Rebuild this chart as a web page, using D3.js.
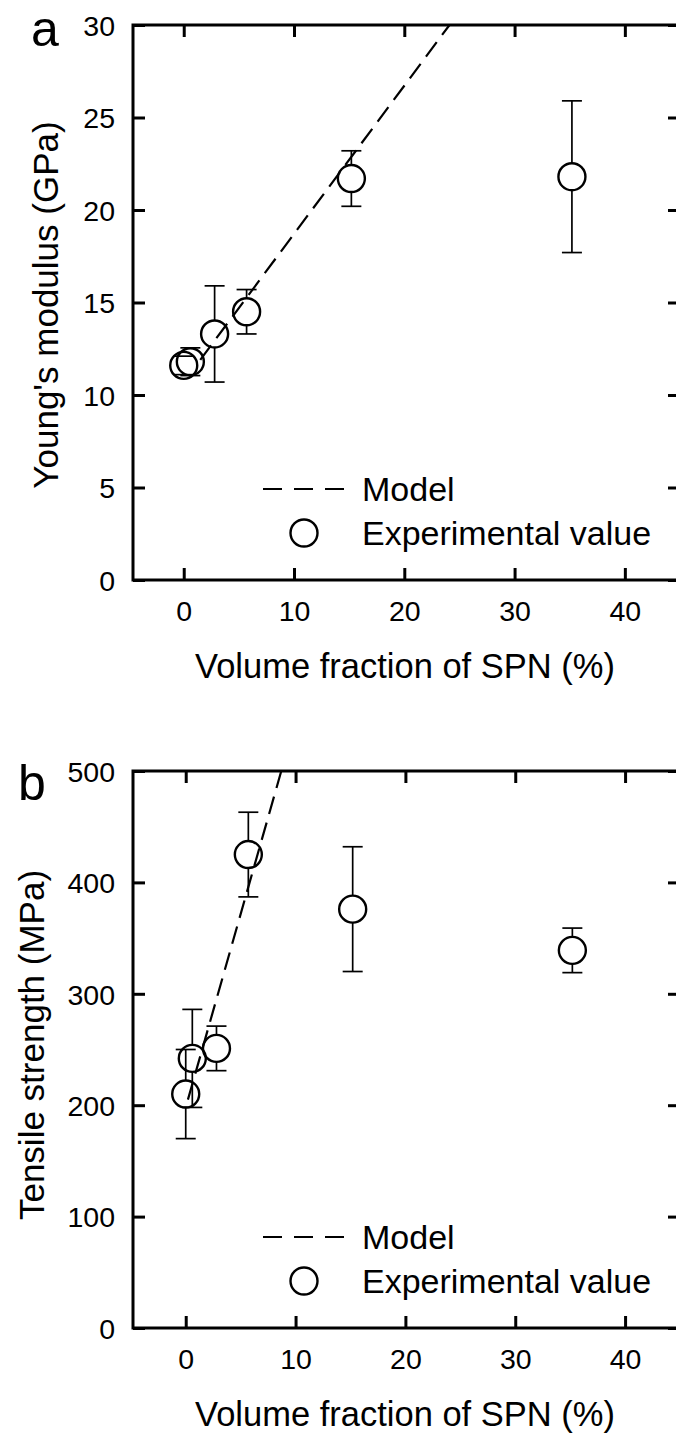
<!DOCTYPE html>
<html>
<head>
<meta charset="utf-8">
<script src="https://cdn.jsdelivr.net/npm/d3@7"></script>
<style>
  body { margin: 0; background: #fff; }
  text { font-family: "Liberation Sans", Arial, sans-serif; fill: #000; }
</style>
</head>
<body>
<div id="chart"></div>
<script>
// volume fraction of SPN (%) for each sample
const fraction = [0, 0.6, 2.8, 5.7, 15.2, 35.2];

// panel a: Young's modulus (GPa)
const modulus = [11.6, 11.8, 13.3, 14.5, 21.7, 21.8];
const modulusErr = [0.5, 0.75, 2.6, 1.2, 1.5, 4.1];
const modelFracA = [1.5, 24.1];
const modelA = [11.9, 30];

// panel b: tensile strength (MPa)
const strength = [210, 242, 251, 425, 376, 339];
const strengthErr = [40, 44, 20, 38, 56, 20];
const modelFracB = [0.2, 8.7];
const modelB = [205, 500];

const xTicks = [0, 10, 20, 30, 40];
const yTicksA = [0, 5, 10, 15, 20, 25, 30];
const yTicksB = [0, 100, 200, 300, 400, 500];

let W = 676, H = 1434;
let r = 13.5;

let svg = d3.select("#chart")
  .append("svg")
  .attr("width", W)
  .attr("height", H);

svg.append("rect").attr("width", W).attr("height", H).attr("fill", "#fff");

function drawPanel(opt) {
  let x = d3.scaleLinear().domain(opt.xDomain).range([133, 680]);
  let y = d3.scaleLinear().domain(opt.yDomain).range([opt.bottom, opt.top]);

  let g = svg.append("g");

  // axes, all ticks point inward
  g.append("g")
    .attr("transform", translate(0, opt.bottom))
    .call(d3.axisBottom(x).tickValues(xTicks).tickSize(-12).tickSizeOuter(0).tickPadding(21));
  g.append("g")
    .attr("transform", translate(0, opt.top))
    .call(d3.axisTop(x).tickValues(xTicks).tickSize(-12).tickSizeOuter(0).tickFormat(""));
  let ay = g.append("g")
    .attr("transform", translate(133, 0))
    .call(d3.axisLeft(y).tickValues(opt.yTicks).tickSize(-12).tickSizeOuter(0).tickPadding(18));
  g.append("g")
    .attr("transform", translate(680, 0))
    .call(d3.axisRight(y).tickValues(opt.yTicks).tickSize(-12).tickSizeOuter(0).tickFormat(""));

  g.selectAll(".domain").remove();
  g.selectAll(".tick line").attr("stroke", "#000").attr("stroke-width", 3);
  g.selectAll(".tick text")
    .attr("font-family", "Liberation Sans, Arial, sans-serif")
    .attr("font-size", 28.5)
    .attr("fill", "#000");
  ay.selectAll(".tick text").attr("dy", "0.36em");

  // frame
  g.append("rect")
    .attr("x", 133)
    .attr("y", opt.top)
    .attr("width", 680 - 133)
    .attr("height", opt.bottom - opt.top)
    .attr("fill", "none")
    .attr("stroke", "#000")
    .attr("stroke-width", 3);

  // model line
  let clip = "clip-" + opt.id;
  g.append("clipPath").attr("id", clip)
    .append("rect")
    .attr("x", 133).attr("y", opt.top)
    .attr("width", 680 - 133).attr("height", opt.bottom - opt.top);

  let line = d3.line()
    .x((d, i) => x(opt.modelX[i]))
    .y(d => y(d));
  g.append("path")
    .datum(opt.modelY)
    .attr("clip-path", "url(#" + clip + ")")
    .attr("d", line)
    .attr("fill", "none")
    .attr("stroke", "#000")
    .attr("stroke-width", 2.2)
    .attr("stroke-dasharray", "18,9");

  // error bars, trimmed at circle edge
  let pts = opt.values.map((v, i) => ({ f: fraction[i], v: v, e: opt.errs[i] }));
  let bars = g.selectAll(".err").data(pts).enter().append("g");
  bars.append("line")
    .attr("x1", d => x(d.f)).attr("x2", d => x(d.f))
    .attr("y1", d => y(d.v + d.e)).attr("y2", d => Math.max(y(d.v) - r, y(d.v + d.e)));
  bars.append("line")
    .attr("x1", d => x(d.f)).attr("x2", d => x(d.f))
    .attr("y1", d => y(d.v - d.e)).attr("y2", d => Math.min(y(d.v) + r, y(d.v - d.e)));
  bars.append("line")
    .attr("x1", d => x(d.f) - 10).attr("x2", d => x(d.f) + 10)
    .attr("y1", d => y(d.v + d.e)).attr("y2", d => y(d.v + d.e));
  bars.append("line")
    .attr("x1", d => x(d.f) - 10).attr("x2", d => x(d.f) + 10)
    .attr("y1", d => y(d.v - d.e)).attr("y2", d => y(d.v - d.e));
  bars.selectAll("line").attr("stroke", "#000").attr("stroke-width", 1.7);

  g.selectAll(".pt").data(pts).enter().append("circle")
    .attr("cx", d => x(d.f))
    .attr("cy", d => y(d.v))
    .attr("r", r)
    .attr("fill", "none")
    .attr("stroke", "#000")
    .attr("stroke-width", 2.4);

  // legend
  g.append("line")
    .attr("x1", 263).attr("x2", 345)
    .attr("y1", opt.legendY).attr("y2", opt.legendY)
    .attr("stroke", "#000").attr("stroke-width", 2.2)
    .attr("stroke-dasharray", "19,12");
  g.append("text")
    .attr("x", 362).attr("y", opt.legendY + 12)
    .style("font-size", "34px")
    .text("Model");
  g.append("circle")
    .attr("cx", 304).attr("cy", opt.legendY + 44)
    .attr("r", r)
    .attr("fill", "none").attr("stroke", "#000").attr("stroke-width", 2.4);
  g.append("text")
    .attr("x", 362).attr("y", opt.legendY + 56)
    .style("font-size", "34px")
    .text("Experimental value");

  // axis titles
  g.append("text")
    .attr("x", 405).attr("y", opt.bottom + 98)
    .attr("text-anchor", "middle")
    .style("font-size", "34.5px")
    .text("Volume fraction of SPN (%)");
  g.append("text")
    .attr("transform", translate(opt.titleX, opt.titleY) + " rotate(-90)")
    .attr("text-anchor", "middle")
    .style("font-size", "35px")
    .text(opt.yTitle);

  // panel letter
  g.append("text")
    .attr("x", opt.letterX).attr("y", opt.top + opt.letterDy)
    .style("font-size", "50px")
    .text(opt.letter);
}

drawPanel({
  id: "a", letter: "a", letterX: 31, letterDy: 21,
  top: 25, bottom: 580,
  xDomain: [-4.6, 45], yDomain: [0, 30], yTicks: yTicksA,
  values: modulus, errs: modulusErr,
  modelX: modelFracA, modelY: modelA,
  legendY: 489, titleX: 58, titleY: 305,
  yTitle: "Young's modulus (GPa)"
});

drawPanel({
  id: "b", letter: "b", letterX: 18, letterDy: 29,
  top: 771, bottom: 1328,
  xDomain: [-4.8, 45], yDomain: [0, 500], yTicks: yTicksB,
  values: strength, errs: strengthErr,
  modelX: modelFracB, modelY: modelB,
  legendY: 1237, titleX: 44, titleY: 1045,
  yTitle: "Tensile strength (MPa)"
});

function translate(x, y) {
  return 'translate(' + x + ',' + y + ')';
}
</script>
</body>
</html>
